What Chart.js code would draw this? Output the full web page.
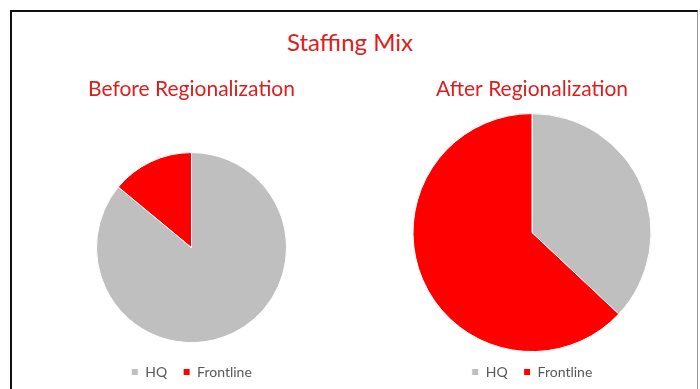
<!DOCTYPE html>
<html>
<head>
<meta charset="utf-8">
<script src="https://cdn.jsdelivr.net/npm/chart.js@4"></script>
<style>
  body { margin: 0; background: #fff; }
  #wrap { position: relative; width: 700px; height: 389px; overflow: hidden; font-family: Lato, sans-serif; }
  #frame { position: absolute; left: 10px; top: 10px; width: 685px; height: 400px;
           border-left: 2px solid #111; border-top: 2px solid #111; border-right: 1px solid #999; }
  #mainTitle { position: absolute; left: 0; top: 27px; width: 700px; text-align: center;
               color: #dc1e1e; font-size: 24px; line-height: 30px; }
  .box { position: absolute; top: 60px; height: 329px; }
</style>
</head>
<body>
<div id="wrap">
  <div id="frame"></div>
  <div id="mainTitle">Staffing Mix</div>
  <div class="box" style="left:0;width:383px"><canvas id="before"></canvas></div>
  <div class="box" style="left:364px;width:336px"><canvas id="after"></canvas></div>
</div>
<script>
// staffing mix, share of headcount (%)
var labels = ['HQ', 'Frontline'];
var beforeValues = [86, 14];
var afterValues = [37, 63];
var colors = ['#bfbfbf', '#ff0000'];

function makePie(id, title, values, radius, titleGap) {
    var ctx = document.getElementById(id).getContext('2d');
    return new Chart(ctx, {
        type: 'pie',
        data: {
            labels: labels,
            datasets: [{
                data: values,
                backgroundColor: colors,
                borderColor: '#ffffff',
                borderWidth: 1,
                clip: false
            }]
        },
        options: {
            responsive: true,
            maintainAspectRatio: false,
            animation: false,
            radius: radius,
            plugins: {
                title: {
                    display: true,
                    text: title,
                    color: '#dc1e1e',
                    font: { family: 'Lato', size: 21, weight: 'normal' },
                    padding: { top: 17, bottom: titleGap }
                },
                legend: {
                    position: 'bottom',
                    labels: {
                        color: '#595959',
                        font: { family: 'Lato', size: 14 },
                        boxWidth: 7,
                        boxHeight: 7,
                        padding: 16
                    }
                },
                tooltip: { enabled: false }
            }
        }
    });
}

makePie('before', 'Before Regionalization', beforeValues, 95, 44);
makePie('after', 'After Regionalization', afterValues, 119, 14);
</script>
</body>
</html>
